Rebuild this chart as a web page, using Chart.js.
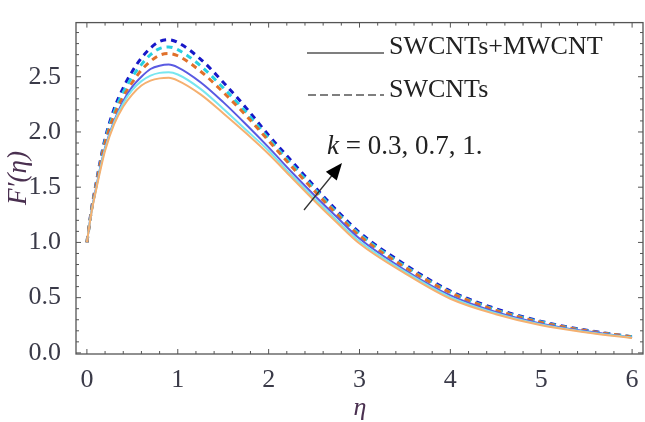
<!DOCTYPE html>
<html>
<head>
<meta charset="utf-8">
<script src="https://cdn.jsdelivr.net/npm/chart.js@4/dist/chart.umd.min.js"></script>
<style>
  html, body { margin: 0; padding: 0; background: #fff; }
  #wrap { width: 645px; height: 422px; }
</style>
</head>
<body>
<div id="wrap"><canvas id="chart" width="645" height="422"></canvas></div>
<script>
// eta grid
const eta = [0, 0.05, 0.1, 0.15, 0.2, 0.3, 0.4, 0.5, 0.6, 0.7, 0.8, 0.9, 1.0, 1.25, 1.5, 1.75, 2.0, 2.25, 2.5, 2.75, 3.0, 3.5, 4.0, 4.5, 5.0, 5.5, 6.0];

// SWCNTs+MWCNT (solid), k = 0.3, 0.7, 1
const hybridK03 = [1.00, 1.27, 1.47, 1.66, 1.83, 2.07, 2.23, 2.34, 2.42, 2.465, 2.485, 2.49, 2.465, 2.34, 2.17, 1.99, 1.80, 1.59, 1.38, 1.18, 0.99, 0.72, 0.49, 0.35, 0.25, 0.185, 0.135];
const hybridK07 = [1.00, 1.28, 1.48, 1.68, 1.85, 2.09, 2.26, 2.38, 2.46, 2.51, 2.535, 2.54, 2.52, 2.39, 2.21, 2.02, 1.83, 1.61, 1.40, 1.20, 1.01, 0.735, 0.505, 0.36, 0.258, 0.19, 0.14];
const hybridK1 = [1.00, 1.28, 1.49, 1.69, 1.86, 2.10, 2.28, 2.41, 2.50, 2.57, 2.60, 2.61, 2.585, 2.45, 2.27, 2.07, 1.86, 1.64, 1.43, 1.23, 1.035, 0.75, 0.52, 0.37, 0.265, 0.195, 0.14];

// SWCNTs (dashed), k = 0.3, 0.7, 1
const swcntK03 = [1.00, 1.29, 1.51, 1.72, 1.90, 2.15, 2.32, 2.45, 2.56, 2.64, 2.695, 2.71, 2.69, 2.55, 2.36, 2.15, 1.92, 1.69, 1.47, 1.255, 1.06, 0.775, 0.545, 0.385, 0.275, 0.20, 0.145];
const swcntK07 = [1.00, 1.29, 1.52, 1.73, 1.92, 2.18, 2.36, 2.50, 2.61, 2.70, 2.755, 2.77, 2.745, 2.60, 2.40, 2.18, 1.94, 1.71, 1.49, 1.27, 1.075, 0.785, 0.55, 0.39, 0.28, 0.20, 0.145];
const swcntK1 = [1.00, 1.30, 1.53, 1.75, 1.94, 2.21, 2.40, 2.55, 2.67, 2.76, 2.82, 2.835, 2.81, 2.66, 2.45, 2.22, 1.97, 1.74, 1.51, 1.29, 1.09, 0.80, 0.56, 0.40, 0.285, 0.205, 0.145];

const xTicks = [0, 1, 2, 3, 4, 5, 6];
const yTicks = [0, 0.5, 1.0, 1.5, 2.0, 2.5];
const legendLabels = ['SWCNTs+MWCNT', 'SWCNTs'];
const annotationText = ' = 0.3, 0.7, 1.';

const serif = '"Liberation Serif", "DejaVu Serif", serif';

function pts(ys) {
    return eta.map((x, i) => ({ x: x, y: ys[i] }));
}

function series(label, ys, color, dashed) {
    return {
        label: label,
        data: pts(ys),
        borderColor: color,
        borderWidth: dashed ? 3 : 2,
        borderDash: dashed ? [6, 5] : [],
        pointRadius: 0,
        fill: false,
        cubicInterpolationMode: 'monotone'
    };
}

// frame, inside ticks, legend and the k annotation
const decorations = {
    id: 'decorations',
    afterDraw(chart) {
        const ctx = chart.ctx;
        const a = chart.chartArea;
        const xs = chart.scales.x;
        const ys = chart.scales.y;
        ctx.save();
        ctx.strokeStyle = '#555';
        ctx.lineWidth = 1.3;
        ctx.strokeRect(a.left, a.top, a.right - a.left, a.bottom - a.top);

        ctx.lineWidth = 1;
        ctx.beginPath();
        for (let i = -1; i <= 31; i++) {
            const v = i * 0.2;
            const px = xs.getPixelForValue(v);
            if (px < a.left || px > a.right) continue;
            const len = (i % 5 === 0) ? 5 : 3;
            ctx.moveTo(px, a.bottom); ctx.lineTo(px, a.bottom - len);
            ctx.moveTo(px, a.top); ctx.lineTo(px, a.top + len);
        }
        for (let i = 0; i <= 30; i++) {
            const v = i * 0.1;
            const py = ys.getPixelForValue(v);
            if (py < a.top || py > a.bottom) continue;
            const len = (i % 5 === 0) ? 5 : 3;
            ctx.moveTo(a.left, py); ctx.lineTo(a.left + len, py);
            ctx.moveTo(a.right, py); ctx.lineTo(a.right - len, py);
        }
        ctx.stroke();

        // legend
        ctx.strokeStyle = '#555';
        ctx.lineWidth = 1.5;
        ctx.beginPath();
        ctx.moveTo(307, 53); ctx.lineTo(384, 53);
        ctx.stroke();
        ctx.setLineDash([8, 4]);
        ctx.beginPath();
        ctx.moveTo(308, 95); ctx.lineTo(384, 95);
        ctx.stroke();
        ctx.setLineDash([]);

        ctx.fillStyle = '#222';
        ctx.font = '26px ' + serif;
        ctx.textBaseline = 'middle';
        ctx.textAlign = 'left';
        ctx.fillText(legendLabels[0], 389, 47);
        ctx.fillText(legendLabels[1], 389, 90);

        // k annotation
        ctx.font = 'italic 27px ' + serif;
        ctx.fillText('k', 327, 147);
        const kw = ctx.measureText('k').width;
        ctx.font = '27px ' + serif;
        ctx.fillText(annotationText, 327 + kw, 147);

        // arrow
        ctx.strokeStyle = '#333';
        ctx.lineWidth = 1.3;
        ctx.beginPath();
        ctx.moveTo(304, 210); ctx.lineTo(334, 173);
        ctx.stroke();
        ctx.fillStyle = '#000';
        ctx.beginPath();
        const tipX = 342, tipY = 163;
        const ang = Math.atan2(tipY - 210, tipX - 304);
        const hl = 17, hw = 7;
        const bx = tipX - hl * Math.cos(ang), by = tipY - hl * Math.sin(ang);
        ctx.moveTo(tipX, tipY);
        ctx.lineTo(bx + hw * Math.sin(ang), by - hw * Math.cos(ang));
        ctx.lineTo(bx - hw * Math.sin(ang), by + hw * Math.cos(ang));
        ctx.closePath();
        ctx.fill();

        // axis titles
        ctx.fillStyle = '#4a3050';
        ctx.font = 'italic 26px ' + serif;
        ctx.textAlign = 'center';
        ctx.fillText('\u03b7', 360, 408);
        ctx.save();
        ctx.translate(19, 178);
        ctx.rotate(-Math.PI / 2);
        ctx.font = 'italic 27px ' + serif;
        ctx.fillText('F\u2032(\u03b7)', 0, 0);
        ctx.restore();

        ctx.restore();
    }
};

new Chart(document.getElementById('chart'), {
    type: 'line',
    data: {
        datasets: [
            series('SWCNTs+MWCNT k=0.3', hybridK03, '#f5b070', false),
            series('SWCNTs+MWCNT k=0.7', hybridK07, '#78e6f0', false),
            series('SWCNTs+MWCNT k=1', hybridK1, '#5a5ae2', false),
            series('SWCNTs k=0.3', swcntK03, '#e0702a', true),
            series('SWCNTs k=0.7', swcntK07, '#28d0e0', true),
            series('SWCNTs k=1', swcntK1, '#1818c8', true)
        ]
    },
    options: {
        responsive: false,
        animation: false,
        layout: { padding: { left: 0, right: 2, top: 1, bottom: 0 } },
        plugins: {
            legend: { display: false },
            tooltip: { enabled: false }
        },
        scales: {
            x: {
                type: 'linear',
                min: -0.12,
                max: 6.12,
                grid: { display: false },
                border: { display: false },
                afterBuildTicks: (scale) => { scale.ticks = xTicks.map(v => ({ value: v })); },
                afterFit: (scale) => { scale.height = 68; },
                ticks: {
                    color: '#3a3a48',
                    padding: 3,
                    maxRotation: 0,
                    font: { family: serif, size: 26 },
                    callback: (v) => String(v)
                }
            },
            y: {
                min: -0.01,
                max: 2.99,
                grid: { display: false },
                border: { display: false },
                afterBuildTicks: (scale) => { scale.ticks = yTicks.map(v => ({ value: v })); },
                afterFit: (scale) => { scale.width = 76; },
                ticks: {
                    color: '#3a3a48',
                    padding: 7,
                    font: { family: serif, size: 26 },
                    callback: (v) => Number(v).toFixed(1)
                }
            }
        }
    },
    plugins: [decorations]
});
</script>
</body>
</html>
